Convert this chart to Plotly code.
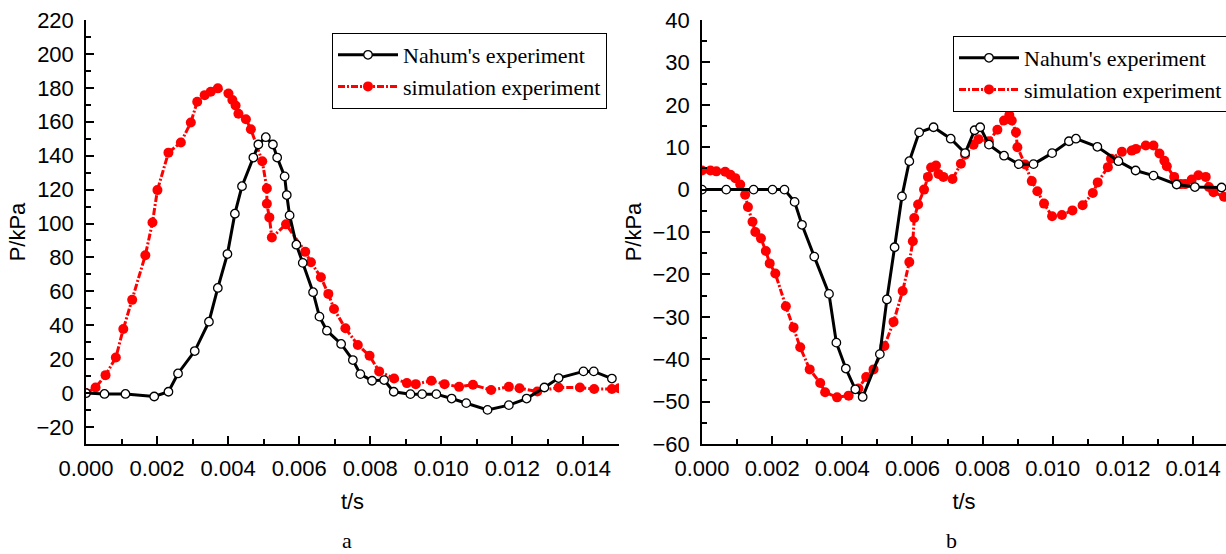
import plotly.graph_objects as go

# ---- Panel a data ----
a_nahum_t = [0.0, 0.00052, 0.00111, 0.00192, 0.00232, 0.00259, 0.00306, 0.00346, 0.00371, 0.00398,
             0.00419, 0.00439, 0.00471, 0.00485, 0.00506, 0.00526, 0.00538, 0.00559, 0.00565, 0.00573,
             0.00592, 0.0061, 0.00639, 0.00657, 0.00678, 0.00718, 0.00751, 0.00772, 0.00805, 0.00839,
             0.00866, 0.00913, 0.00946, 0.00986, 0.01029, 0.0107, 0.0113, 0.0119, 0.0124, 0.0129,
             0.0133, 0.0140, 0.01429, 0.0148]
a_nahum_p = [0, -0.5, -0.5, -2, 0.8, 11.6, 24.8, 42.1, 62, 82,
             105.8, 122, 138.9, 146.6, 150.9, 146.6, 138.9, 127.8, 116.8, 104.8,
             87.5, 76.8, 59.5, 45.1, 36.8, 29, 19.5, 11.2, 7.3, 7.7,
             0.8, -0.6, -0.6, -0.6, -3.2, -5.9, -9.9, -7.1, -3.2, 3.3,
             8.9, 12.8, 12.8, 8.6]
a_sim_t = [0.0, 0.00027, 0.00055, 0.00084, 0.00105, 0.0013, 0.00167, 0.00187, 0.00201, 0.00232,
           0.00267, 0.00295, 0.00313, 0.00334, 0.00351, 0.00371, 0.00401, 0.00412, 0.00421, 0.00429,
           0.0045, 0.00464, 0.00496, 0.00509, 0.00509, 0.00516, 0.00523, 0.00563, 0.00617, 0.00633,
           0.00661, 0.00682, 0.00698, 0.0073, 0.00765, 0.00798, 0.00825, 0.00867, 0.00903, 0.00928,
           0.00972, 0.01009, 0.0105, 0.01089, 0.0114, 0.0119, 0.0122, 0.0127, 0.0133, 0.0139,
           0.0143, 0.0148, 0.0150]
a_sim_p = [0, 3.3, 10.6, 21, 37.8, 55, 81.3, 100.6, 119.7, 141.8,
           147.8, 159.6, 171.8, 175.7, 177.7, 179.7, 176.7, 172.8, 169.6, 164.7,
           161.5, 155.6, 136.7, 120.7, 111.7, 103.6, 91.8, 99.5, 83.3, 77.2,
           68.3, 58.5, 49.6, 38.2, 28.4, 22, 12.8, 8.6, 5.9, 5.3,
           7.3, 5.3, 3.7, 4.9, 1.8, 3.7, 2.9, 1.0, 3.3, 3.3,
           2.4, 2.4, 2.9]

# ---- Panel b data ----
b_nahum_t = [0.0, 0.00069, 0.00147, 0.00201, 0.00235, 0.00264, 0.00285, 0.0032, 0.00362, 0.00383,
             0.0041, 0.00437, 0.00458, 0.00507, 0.00527, 0.00549, 0.0057, 0.00591, 0.00619, 0.0066,
             0.00709, 0.0075, 0.00777, 0.00793, 0.00818, 0.00861, 0.00903, 0.00945, 0.00998, 0.01046,
             0.01066, 0.01127, 0.01187, 0.01236, 0.01287, 0.01353, 0.01405, 0.01481]
b_nahum_p = [0, 0, 0, 0, 0, -2.9, -8.3, -15.8, -24.6, -36.1,
             -42.2, -47.1, -48.9, -38.8, -25.9, -13.6, -1.6, 6.7, 13.5, 14.7,
             12, 8.6, 14, 14.7, 10.6, 8, 6, 6, 8.6, 11.4,
             12, 10.1, 6.7, 4.5, 3.3, 1.2, 0.6, 0.5]
b_sim_t = [0.0, 0.00024, 0.00041, 0.00066, 0.00081, 0.00095, 0.00109, 0.00123, 0.00131, 0.00144,
           0.00152, 0.00168, 0.00182, 0.00193, 0.00209, 0.00239, 0.00261, 0.0028, 0.00307, 0.00337,
           0.00351, 0.00385, 0.00418, 0.00446, 0.00468, 0.00489, 0.0052, 0.00546, 0.00572, 0.00591,
           0.00601, 0.00605, 0.00616, 0.00633, 0.00644, 0.00653, 0.00667, 0.00674, 0.00688, 0.00714,
           0.00738, 0.0075, 0.00774, 0.00788, 0.00818, 0.00842, 0.00861, 0.00876, 0.00883, 0.00895,
           0.00899, 0.00921, 0.0094, 0.00956, 0.00975, 0.00998, 0.01026, 0.01056, 0.01085, 0.01114,
           0.01128, 0.01157, 0.01166, 0.01197, 0.01225, 0.01237, 0.01265, 0.01287, 0.01304, 0.01318,
           0.01325, 0.01346, 0.01365, 0.01377, 0.01396, 0.01415, 0.01436, 0.01445, 0.01458, 0.01488]
b_sim_p = [4.5, 4.5, 4.3, 4.2, 3.5, 2.7, 1.2, -1.2, -4.1, -7.6,
           -10, -11.5, -14.5, -17.4, -19.8, -27.5, -32.5, -37.2, -42.4, -45.6,
           -47.8, -49, -48.6, -46.9, -44.2, -42.4, -36.9, -31.2, -23.9, -17.1,
           -12.2, -6.7, -3.5, 0, 3, 5.2, 5.7, 3.7, 3, 2.5,
           6.1, 8.2, 10.6, 11.9, 11.4, 14.1, 16.3, 17.6, 16.3, 13.5,
           10, 5.9, 2, -0.4, -3.3, -6.3, -6, -4.9, -3.7, -0.8,
           1.7, 5.3, 7.3, 8.9, 9.2, 9.6, 10.4, 10.4, 8.5, 6.8,
           5.5, 3, 1.3, 1.3, 2.4, 3.4, 3, 0.6, -0.6, -1.7]

x_ticks = [0.000, 0.002, 0.004, 0.006, 0.008, 0.010, 0.012, 0.014]
x_tick_labels = ["0.000", "0.002", "0.004", "0.006", "0.008", "0.010", "0.012", "0.014"]

W, H = 1226, 554
SANS = "Liberation Sans, Arial, sans-serif"
SERIF = "Liberation Serif, Times New Roman, serif"

fig = go.Figure()

def add_pair(tn, pn, ts, ps, xa, ya, leg):
    fig.add_trace(go.Scatter(
        x=ts, y=ps, xaxis=xa, yaxis=ya, mode="lines+markers", name="simulation experiment",
        line=dict(color="#ff0000", width=3, dash="7px,2px,2px,2px"),
        marker=dict(symbol="circle", size=10, color="#ff0000", line=dict(width=0)),
        legend=leg, cliponaxis=True))
    fig.add_trace(go.Scatter(
        x=tn, y=pn, xaxis=xa, yaxis=ya, mode="lines+markers", name="Nahum's experiment",
        line=dict(color="black", width=3),
        marker=dict(symbol="circle", size=8.5, color="white", line=dict(color="black", width=1.3)),
        legend=leg, cliponaxis=True))

add_pair(a_nahum_t, a_nahum_p, a_sim_t, a_sim_p, "x", "y", "legend")
add_pair(b_nahum_t, b_nahum_p, b_sim_t, b_sim_p, "x2", "y2", "legend2")

ydom = [1 - 444 / H, 1 - 20 / H]

common_x = dict(
    tickmode="array", tickvals=x_ticks, ticktext=x_tick_labels,
    ticks="inside", ticklen=8, tickwidth=1.5, tickcolor="black",
    minor=dict(dtick=0.001, tick0=0, ticks="inside", ticklen=5, tickwidth=1.5, tickcolor="black"),
    showline=True, linecolor="black", linewidth=1.5, showgrid=False, zeroline=False,
    tickfont=dict(family=SANS, size=22, color="black"),
    title=dict(text="t/s", font=dict(family=SANS, size=22, color="black"), standoff=13),
    ticklabelstandoff=4, automargin=False,
)
common_y = dict(
    ticks="inside", ticklen=8, tickwidth=1.5, tickcolor="black",
    showline=True, linecolor="black", linewidth=1.5, showgrid=False, zeroline=False,
    tickfont=dict(family=SANS, size=22, color="black"),
    title=dict(text="P/kPa", font=dict(family=SANS, size=22, color="black"), standoff=5),
    ticklabelstandoff=6, automargin=False,
)

fig.update_layout(
    template="none",
    width=W, height=H,
    margin=dict(l=0, r=0, t=0, b=0, autoexpand=False),
    paper_bgcolor="white", plot_bgcolor="white",
    xaxis=dict(domain=[86 / W, 619 / W], range=[0, 0.015], anchor="y", **common_x),
    yaxis=dict(domain=ydom, range=[-30, 220], anchor="x", dtick=20, tick0=0, tickmode="linear",
               minor=dict(dtick=10, tick0=0, ticks="inside", ticklen=5, tickwidth=1.5, tickcolor="black"),
               **common_y),
    xaxis2=dict(domain=[702 / W, 1.0], range=[0, 0.014937], anchor="y2", **common_x),
    yaxis2=dict(domain=ydom, range=[-60, 40], anchor="x2", dtick=10, tick0=0, tickmode="linear",
                minor=dict(dtick=5, tick0=0, ticks="inside", ticklen=5, tickwidth=1.5, tickcolor="black"),
                **common_y),
    legend=dict(x=332 / W, y=1 - 33 / H, xanchor="left", yanchor="top",
                bordercolor="black", borderwidth=1, bgcolor="white",
                font=dict(family=SERIF, size=22, color="black"),
                traceorder="reversed", itemwidth=60, tracegroupgap=0),
    legend2=dict(x=953 / W, y=1 - 36 / H, xanchor="left", yanchor="top",
                 bordercolor="black", borderwidth=1, bgcolor="white",
                 font=dict(family=SERIF, size=22, color="black"),
                 traceorder="reversed", itemwidth=60, tracegroupgap=0),
    showlegend=True,
)

fig.add_annotation(text="a", x=347 / W, y=0, xref="paper", yref="paper",
                   xanchor="center", yanchor="bottom", borderpad=0,
                   showarrow=False, font=dict(family=SERIF, size=22, color="black"))
fig.add_annotation(text="b", x=951 / W, y=0, xref="paper", yref="paper",
                   xanchor="center", yanchor="bottom", borderpad=0,
                   showarrow=False, font=dict(family=SERIF, size=22, color="black"))

fig.write_html("out.html", config={"displayModeBar": False},
               post_script="document.body.style.margin='0';document.body.style.overflow='hidden';")
